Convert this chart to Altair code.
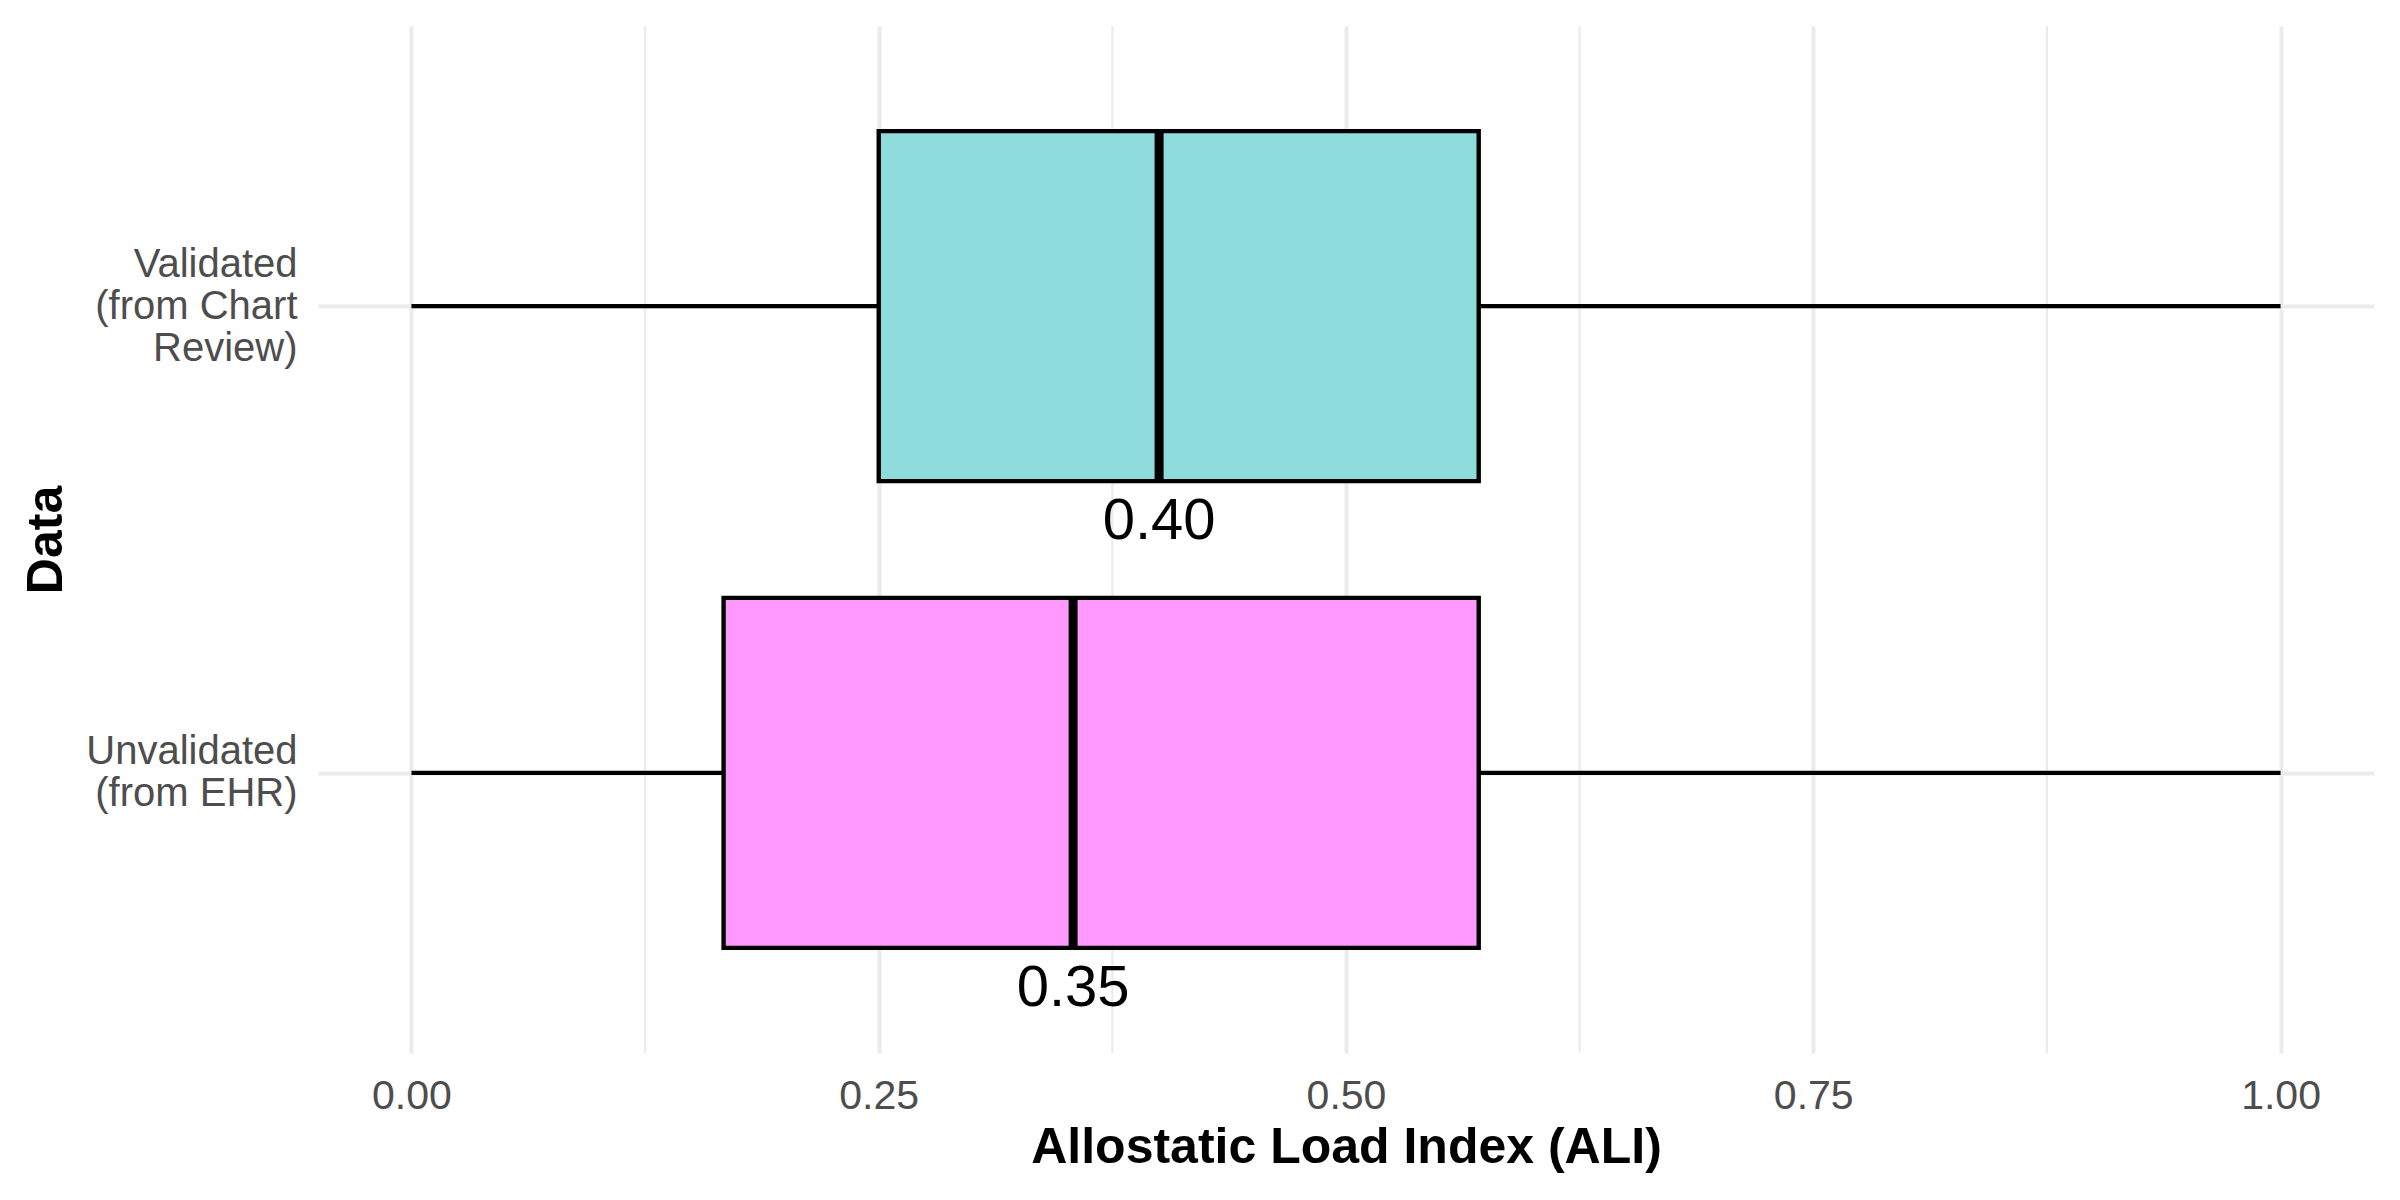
import altair as alt
import pandas as pd

# ---- data ----
categories = ["Validated\n(from Chart\nReview)", "Unvalidated\n(from EHR)"]
whisker_low = [0.0, 0.0]
q1 = [0.25, 0.167]
median = [0.40, 0.354]
q3 = [0.571, 0.571]
whisker_high = [1.0, 1.0]
fill_colors = ["#8EDCDC", "#FF99FF"]
x_major_ticks = [0.0, 0.25, 0.5, 0.75, 1.0]
x_minor_ticks = [0.125, 0.375, 0.625, 0.875]

df = pd.DataFrame({
    "group": categories,
    "lo": whisker_low,
    "q1": q1,
    "median": median,
    "q3": q3,
    "hi": whisker_high,
})
minor_df = pd.DataFrame({"v": x_minor_ticks})

W, H = 2056, 1027
FONT = "Liberation Sans"
GRID = "#EBEBEB"
LH = 42

x_scale = alt.Scale(domain=[-0.05, 1.05], nice=False, zero=False)
x_axis = alt.Axis(
    title="Allostatic Load Index (ALI)",
    values=x_major_ticks,
    format=".2f",
    grid=True,
    gridColor=GRID,
    gridWidth=4,
    domain=False,
    ticks=False,
    labelFont=FONT,
    labelFontSize=41,
    labelColor="#4D4D4D",
    labelPadding=43,
    labelBaseline="middle",
    titleFont=FONT,
    titleFontSize=50,
    titleFontWeight="bold",
    titleColor="black",
    titleX=W / 2,
    titleY=94,
    titleAlign="center",
    titleBaseline="middle",
)
y_axis = alt.Axis(
    title="Data",
    labelExpr="split(datum.label, '\\n')",
    labelFont=FONT,
    labelFontSize=40,
    labelColor="#4D4D4D",
    labelLineHeight=LH,
    labelLimit=600,
    labelPadding=21,
    labelAlign="right",
    labelBaseline="middle",
    labelOffset={"condition": {"test": "indexof(datum.value, 'Chart') >= 0", "value": -LH},
                 "value": -LH / 2},
    ticks=False,
    domain=False,
    grid=True,
    gridColor=GRID,
    gridWidth=4,
    titleFont=FONT,
    titleFontSize=50,
    titleFontWeight="bold",
    titleColor="black",
    titleX=-272,
    titleY=H / 2,
    titleAngle=270,
    titleAlign="center",
    titleBaseline="middle",
)
y_enc = alt.Y("group:N", sort=categories,
              scale=alt.Scale(type="point", padding=0.6), axis=y_axis)

minor_grid = alt.Chart(minor_df).mark_rule(color=GRID, strokeWidth=2.2).encode(
    x=alt.X("v:Q", scale=x_scale, axis=x_axis)
)

base = alt.Chart(df)

whiskers = base.mark_rule(color="black", strokeWidth=4.4).encode(
    x=alt.X("lo:Q", scale=x_scale, axis=x_axis),
    x2="hi:Q",
    y=y_enc,
)

boxes = base.mark_bar(stroke="black", strokeWidth=4.4, size=350).encode(
    x=alt.X("q1:Q", scale=x_scale, axis=x_axis),
    x2="q3:Q",
    y=y_enc,
    color=alt.Color("group:N", scale=alt.Scale(domain=categories, range=fill_colors),
                    legend=None),
)

med = base.mark_tick(color="black", thickness=9, size=348, opacity=1).encode(
    x=alt.X("median:Q", scale=x_scale, axis=x_axis),
    y=y_enc,
)

labels = base.mark_text(font=FONT, fontSize=58, color="black", dy=216,
                        baseline="middle", align="center").encode(
    x=alt.X("median:Q", scale=x_scale, axis=x_axis),
    y=y_enc,
    text=alt.Text("median:Q", format=".2f"),
)

chart = alt.layer(minor_grid, whiskers, boxes, med, labels).properties(
    width=W,
    height=H,
    padding={"left": 318, "top": 26, "right": 26, "bottom": 147},
    autosize=alt.AutoSizeParams(type="none"),
    background="white",
).configure_view(stroke=None)

chart.save("out.html", embed_options={"renderer": "svg", "actions": False})
